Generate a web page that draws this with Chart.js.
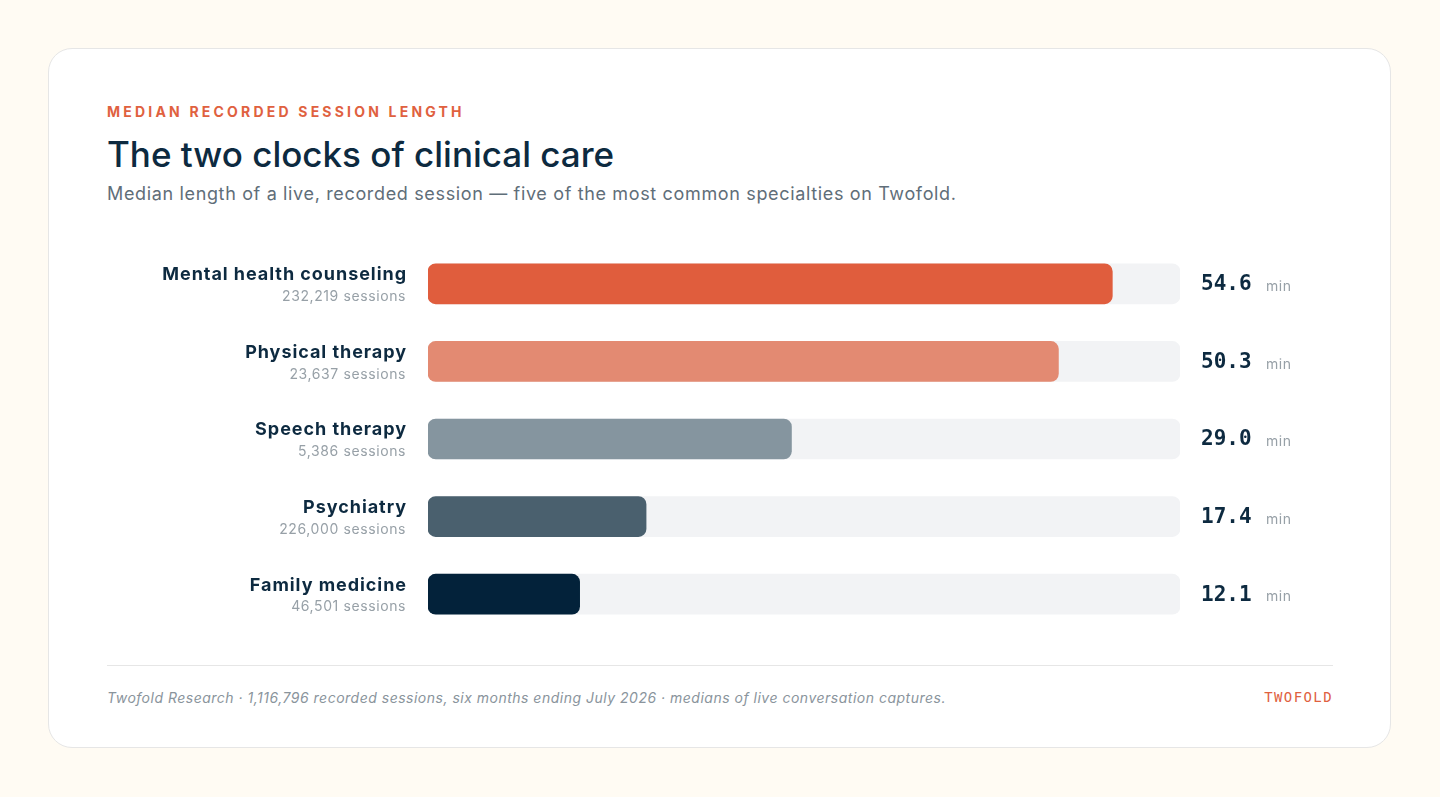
<!DOCTYPE html>
<html>
<head>
<meta charset="utf-8">
<script src="https://cdn.jsdelivr.net/npm/chart.js@4.4.1/dist/chart.umd.min.js"></script>
<style>
  html, body { margin: 0; padding: 0; }
  body {
    width: 1440px; height: 797px;
    background: #fffbf3;
    font-family: Inter, "Noto Sans", sans-serif;
    position: relative;
    overflow: hidden;
  }
  .card {
    position: absolute; left: 48px; top: 48px;
    width: 1341px; height: 698px;
    background: #fff;
    border: 1px solid #e6e6e6;
    border-radius: 24px;
  }
  .eyebrow {
    position: absolute; left: 58px; top: 54px;
    font-size: 14px; font-weight: 700; letter-spacing: 3.2px;
    color: #e0613f;
  }
  .title {
    position: absolute; left: 58px; top: 84px;
    font-size: 35px; font-weight: 500; color: #0d2a40;
    letter-spacing: 0px;
  }
  .subtitle {
    position: absolute; left: 58px; top: 134px;
    font-size: 18px; color: #5f6e79; letter-spacing: 0.65px;
  }
  .chart-wrap {
    position: absolute; left: 58px; top: 196px;
    width: 1226px; height: 388px;
  }
  .rule {
    position: absolute; left: 58px; top: 616px;
    width: 1226px; height: 1px; background: #e6e6e6;
  }
  .footer {
    position: absolute; left: 58px; top: 640px;
    font-size: 14px; font-style: italic; color: #8a949c; letter-spacing: 0.5px;
  }
  .brand {
    position: absolute; right: 57px; top: 640px;
    font-family: "DejaVu Sans Mono", "Liberation Mono", monospace;
    font-size: 14px; letter-spacing: 1.4px; color: #e0613f;
  }
</style>
</head>
<body>
<div class="card">
  <div class="eyebrow">MEDIAN RECORDED SESSION LENGTH</div>
  <div class="title">The two clocks of clinical care</div>
  <div class="subtitle">Median length of a live, recorded session — five of the most common specialties on Twofold.</div>
  <div class="chart-wrap"><canvas id="chart"></canvas></div>
  <div class="rule"></div>
  <div class="footer">Twofold Research · 1,116,796 recorded sessions, six months ending July 2026 · medians of live conversation captures.</div>
  <div class="brand">TWOFOLD</div>
</div>
<script>
const specialties = ['Mental health counseling', 'Physical therapy', 'Speech therapy', 'Psychiatry', 'Family medicine'];
const sessionCounts = ['232,219', '23,637', '5,386', '226,000', '46,501'];
const medianMinutes = [54.6, 50.3, 29.0, 17.4, 12.1];
const barColors = ['#e05d3d', '#e38a72', '#85959f', '#4a606e', '#03223a'];
const axisMax = 60;

// Left labels (name + session count) and right value labels
const labelPlugin = {
  id: 'rowLabels',
  afterDatasetsDraw(chart) {
    const ctx = chart.ctx;
    const area = chart.chartArea;
    const y = chart.scales.y;
    ctx.save();
    specialties.forEach((name, i) => {
      const cy = y.getPixelForValue(i);
      ctx.textAlign = 'right';
      ctx.textBaseline = 'middle';
      ctx.fillStyle = '#0d2a40';
      ctx.font = '700 18px Inter, "Noto Sans", sans-serif';
      ctx.letterSpacing = '0.95px';
      ctx.fillText(name, area.left - 21, cy - 9);
      ctx.fillStyle = '#97a0a7';
      ctx.font = '14px Inter, "Noto Sans", sans-serif';
      ctx.letterSpacing = '0.6px';
      ctx.fillText(sessionCounts[i] + ' sessions', area.left - 22, cy + 13);

      ctx.textAlign = 'left';
      ctx.letterSpacing = '0px';
      ctx.fillStyle = '#0d2a40';
      ctx.font = '700 21px "DejaVu Sans Mono", "Liberation Mono", monospace';
      const val = medianMinutes[i].toFixed(1);
      ctx.fillText(val, area.right + 21, cy + 1);
      ctx.fillStyle = '#97a0a7';
      ctx.font = '14px Inter, "Noto Sans", sans-serif';
      ctx.letterSpacing = '0.5px';
      ctx.fillText('min', area.right + 86, cy + 3);
    });
    ctx.restore();
  }
};

new Chart(document.getElementById('chart'), {
  type: 'bar',
  data: {
    labels: specialties,
    datasets: [
      {
        label: 'Median minutes',
        data: medianMinutes,
        backgroundColor: barColors,
        borderRadius: 8,
        borderSkipped: false,
        barThickness: 40,
        grouped: false,
        order: 1
      },
      {
        label: 'Track',
        data: specialties.map(() => axisMax),
        backgroundColor: '#f2f3f5',
        borderRadius: 8,
        borderSkipped: false,
        barThickness: 40,
        grouped: false,
        order: 2
      }
    ]
  },
  options: {
    indexAxis: 'y',
    responsive: true,
    maintainAspectRatio: false,
    animation: false,
    layout: { padding: { left: 321, right: 153, top: 0, bottom: 0 } },
    plugins: {
      legend: { display: false },
      tooltip: { enabled: false }
    },
    scales: {
      x: { min: 0, max: axisMax, display: false, grid: { display: false } },
      y: { display: false, grid: { display: false } }
    }
  },
  plugins: [labelPlugin]
});
</script>
</body>
</html>
